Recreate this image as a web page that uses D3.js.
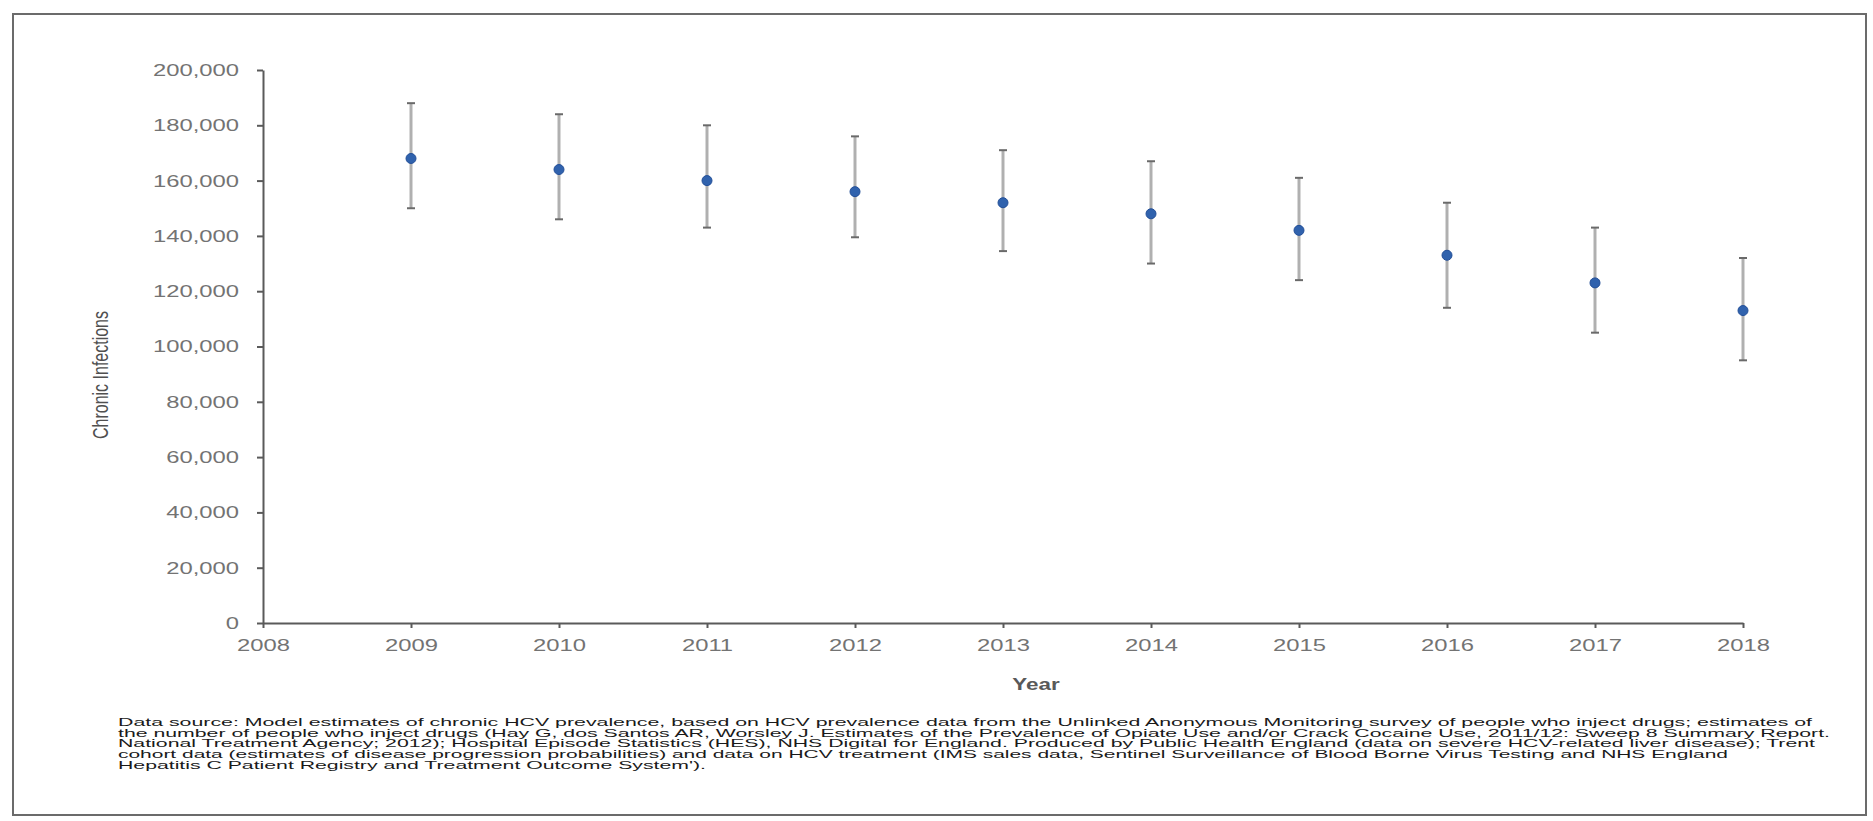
<!DOCTYPE html>
<html>
<head>
<meta charset="utf-8">
<script src="https://cdn.jsdelivr.net/npm/d3@7"></script>
<style>
  body { margin: 0; background: #fff; }
  svg { display: block; font-family: 'Liberation Sans', Arial, sans-serif; }
</style>
</head>
<body>
<svg id="chart" width="1873" height="821"></svg>
<script>
// values
var years = [2009, 2010, 2011, 2012, 2013, 2014, 2015, 2016, 2017, 2018];
var estimates = [168000, 164000, 160000, 156000, 152000, 148000, 142000, 133000, 123000, 113000];
var lowerBounds = [150000, 146000, 143000, 139500, 134500, 130000, 124000, 114000, 105000, 95000];
var upperBounds = [188000, 184000, 180000, 176000, 171000, 167000, 161000, 152000, 143000, 132000];
var xTicks = [2008, 2009, 2010, 2011, 2012, 2013, 2014, 2015, 2016, 2017, 2018];
var yTicks = [0, 20000, 40000, 60000, 80000, 100000, 120000, 140000, 160000, 180000, 200000];
var sourceLines = [
  'Data source: Model estimates of chronic HCV prevalence, based on HCV prevalence data from the Unlinked  Anonymous  Monitoring survey of people who inject drugs;  estimates of',
  'the number  of people who inject drugs (Hay G, dos Santos AR, Worsley J. Estimates of the Prevalence of Opiate Use and/or Crack Cocaine Use, 2011/12: Sweep 8 Summary  Report.',
  'National Treatment Agency; 2012); Hospital Episode Statistics (HES), NHS  Digital for England.  Produced by Public Health England  (data on severe HCV-related liver disease); Trent',
  'cohort data (estimates of disease progression probabilities) and data on HCV treatment  (IMS sales data, Sentinel Surveillance of Blood Borne Virus Testing and NHS England',
  'Hepatitis C Patient Registry and Treatment Outcome System\').'
];
var sourceWidths = [1694, 1712, 1697, 1610, 588];

var data = years.map((d, i) => ({
  year: d,
  value: estimates[i],
  low: lowerBounds[i],
  high: upperBounds[i]
}));

var svg = d3.select('#chart');
var stretch = 1.4; // the picture's text is widened horizontally

// outer frame
svg
  .append('rect')
  .attr('x', 13)
  .attr('y', 14)
  .attr('width', 1853)
  .attr('height', 801)
  .attr('fill', 'none')
  .attr('stroke', '#6b6b6b')
  .attr('stroke-width', 2);

var xScale = d3
  .scaleLinear()
  .domain([2008, 2018])
  .range([263, 1743]);

var yScale = d3
  .scaleLinear()
  .domain([0, 200000])
  .range([623, 70]);

var xAxis = svg
  .append('g')
  .attr('transform', `translate(0, ${yScale(0)})`)
  .call(
    d3
      .axisBottom(xScale)
      .tickValues(xTicks)
      .tickFormat(d3.format('d'))
      .tickSize(5)
      .tickSizeOuter(0)
  );
xAxis
  .selectAll('text')
  .attr('y', 0)
  .attr('dy', '0.71em')
  .attr('transform', `translate(0, 16) scale(${stretch}, 1)`);

var yAxis = svg
  .append('g')
  .attr('transform', `translate(${xScale(2008)}, 0)`)
  .call(
    d3
      .axisLeft(yScale)
      .tickValues(yTicks)
      .tickFormat(d3.format(','))
      .tickSize(6)
      .tickSizeOuter(0)
  );
yAxis
  .selectAll('text')
  .attr('x', 0)
  .attr('transform', `translate(-24, 0) scale(${stretch}, 1)`);

svg.selectAll('.domain').attr('stroke', '#5a5a5a').attr('stroke-width', 2);
svg.selectAll('.tick line').attr('stroke', '#5a5a5a').attr('stroke-width', 2);
svg
  .selectAll('.tick text')
  .attr('fill', '#737373')
  .attr('font-size', 17)
  .attr('font-family', "'Liberation Sans', Arial, sans-serif");

// axis titles
svg
  .append('text')
  .attr('transform', `translate(1036, 690) scale(${stretch}, 1)`)
  .attr('text-anchor', 'middle')
  .attr('font-size', 16)
  .attr('font-weight', 'bold')
  .attr('fill', '#595959')
  .text('Year');

svg
  .append('text')
  .attr('transform', `translate(100, 375) scale(${stretch}, 1) rotate(-90)`)
  .attr('text-anchor', 'middle')
  .attr('dy', '0.35em')
  .attr('font-size', 16)
  .attr('fill', '#505050')
  .text('Chronic Infections');

// error bars
var bars = svg.append('g').attr('class', 'bars');
bars
  .selectAll('line.whisker')
  .data(data)
  .join('line')
  .attr('class', 'whisker')
  .attr('x1', d => xScale(d.year))
  .attr('x2', d => xScale(d.year))
  .attr('y1', d => yScale(d.low))
  .attr('y2', d => yScale(d.high))
  .attr('stroke', '#b0b0b0')
  .attr('stroke-width', 3);

['low', 'high'].forEach(key => {
  bars
    .selectAll('line.cap-' + key)
    .data(data)
    .join('line')
    .attr('class', 'cap-' + key)
    .attr('x1', d => xScale(d.year) - 4)
    .attr('x2', d => xScale(d.year) + 4)
    .attr('y1', d => yScale(d[key]))
    .attr('y2', d => yScale(d[key]))
    .attr('stroke', '#6a6a6a')
    .attr('stroke-width', 2);
});

// central estimates
svg
  .append('g')
  .selectAll('circle')
  .data(data)
  .join('circle')
  .attr('cx', d => xScale(d.year))
  .attr('cy', d => yScale(d.value))
  .attr('r', 5)
  .attr('fill', '#3062ad')
  .attr('stroke', '#234f98')
  .attr('stroke-width', 1);

// source note
svg
  .append('g')
  .selectAll('text')
  .data(sourceLines)
  .join('text')
  .attr('x', 118)
  .attr('y', (d, i) => 726 + i * 10.7)
  .attr('font-size', 11)
  .attr('fill', '#1a1a1a')
  .attr('textLength', (d, i) => sourceWidths[i])
  .attr('lengthAdjust', 'spacingAndGlyphs')
  .text(d => d);
</script>
</body>
</html>
